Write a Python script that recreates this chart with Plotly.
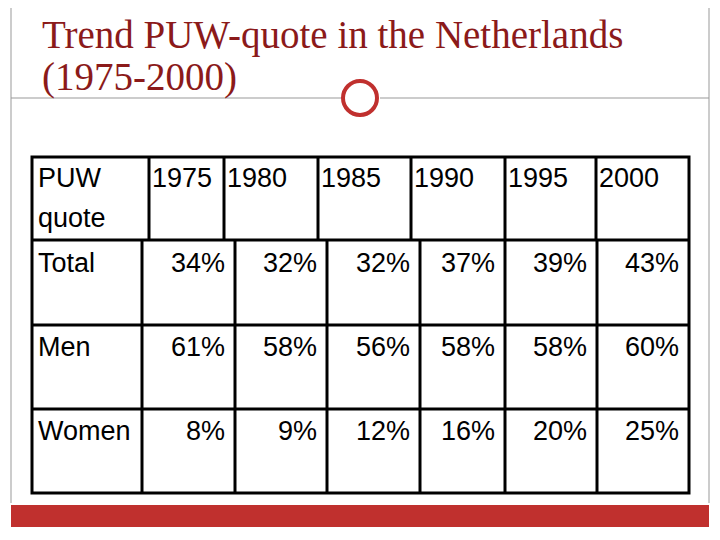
import plotly.graph_objects as go

years = ["1975", "1980", "1985", "1990", "1995", "2000"]
row_labels = ["Total", "Men", "Women"]
total = ["34%", "32%", "32%", "37%", "39%", "43%"]
men = ["61%", "58%", "56%", "58%", "58%", "60%"]
women = ["8%", "9%", "12%", "16%", "20%", "25%"]
rows = [total, men, women]

fig = go.Figure()
fig.add_trace(go.Scatter(x=[8, 728], y=[8, 548], mode="markers", marker=dict(opacity=0), hoverinfo="skip", showlegend=False))
shapes = []
def line(x0, y0, x1, y1, w=3, c="black"):
    shapes.append(dict(type="line", x0=x0, y0=y0, x1=x1, y1=y1, line=dict(color=c, width=w)))

# slide frame
line(11, 0, 11, 503, 1, "#999999"); line(709, 0, 709, 503, 1, "#999999")
shapes.append(dict(type="rect", x0=11, y0=505, x1=709, y1=527, fillcolor="#C0302E", line=dict(width=0)))
line(11, 98, 341, 98, 1, "#999999"); line(380, 98, 709, 98, 1, "#999999")
shapes.append(dict(type="circle", x0=343, y0=81, x1=377, y1=115, line=dict(color="#C0302E", width=4), fillcolor="white"))

# table
L, R, T, B = 32, 689, 157, 493
shapes.append(dict(type="rect", x0=L, y0=T, x1=R, y1=B, line=dict(color="black", width=3)))
for y in [240, 325, 409]:
    line(L, y, R, y)
for x in [149, 224, 318, 411, 505, 596]:
    line(x, T, x, 240)
dcols = [142, 235, 327, 420, 505, 597, R]
for x in dcols[:-1]:
    line(x, 240, x, B)

ann = []
def txt(x, y, s, anchor="left", size=27, color="black", fam="Liberation Sans, Arial"):
    ann.append(dict(x=x, y=y, text=s, showarrow=False, xanchor=anchor, yanchor="middle",
                    font=dict(size=size, color=color, family=fam)))

txt(40, 35, "Trend PUW-quote in the Netherlands", size=39, color="#8B1A1A", fam="Liberation Serif, Times New Roman")
txt(40, 77, "(1975-2000)", size=39, color="#8B1A1A", fam="Liberation Serif, Times New Roman")
txt(36, 178, "PUW")
txt(36, 218, "quote")
hx = [149, 224, 318, 411, 505, 596]
for x, yr in zip(hx, years):
    txt(x + 1, 178, yr)
ry = [263, 347, 431]
for r, lab, y in zip(rows, row_labels, ry):
    txt(36, y, lab)
    for i, v in enumerate(r):
        txt(dcols[i + 1] - 8, y, v, anchor="right")

fig.update_layout(width=720, height=540, margin=dict(l=0, r=0, t=0, b=0),
                  paper_bgcolor="white", plot_bgcolor="white",
                  xaxis=dict(range=[8, 728], visible=False, fixedrange=True),
                  yaxis=dict(range=[548, 8], visible=False, fixedrange=True),
                  shapes=shapes, annotations=ann)
fig.write_html("out.html")
